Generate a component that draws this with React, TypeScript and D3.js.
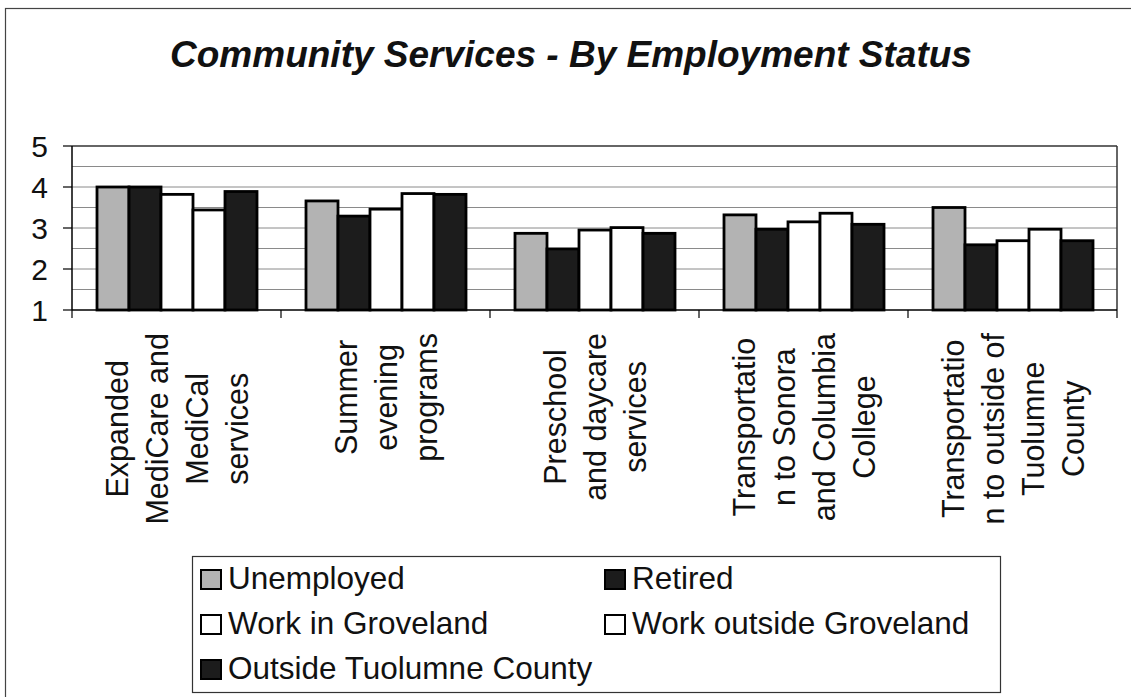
import React from "react";
import * as d3 from "d3";

const categories: string[][] = [
  ["Expanded", "MediCare and", "MediCal", "services"],
  ["Summer", "evening", "programs"],
  ["Preschool", "and daycare", "services"],
  ["Transportatio", "n to Sonora", "and Columbia", "College"],
  ["Transportatio", "n to outside of", "Tuolumne", "County"],
];
const seriesNames = [
  "Unemployed",
  "Retired",
  "Work in Groveland",
  "Work outside Groveland",
  "Outside Tuolumne County",
];
const unemployed = [4.0, 3.66, 2.87, 3.32, 3.5];
const retired = [4.0, 3.29, 2.49, 2.97, 2.59];
const workIn = [3.82, 3.46, 2.95, 3.15, 2.69];
const workOut = [3.44, 3.84, 3.01, 3.36, 2.97];
const outsideCounty = [3.89, 3.82, 2.87, 3.09, 2.69];
const yTicks = [1, 2, 3, 4, 5];
const title = "Community Services - By Employment Status";

const seriesValues = [unemployed, retired, workIn, workOut, outsideCounty];
const colors = ["#b3b3b3", "#1c1c1c", "#ffffff", "#ffffff", "#1c1c1c"];

const W = 1131;
const H = 697;
const plotL = 72;
const plotR = 1117;
const plotT = 146;
const plotB = 310;
const font = "Arial, 'Liberation Sans', Helvetica, sans-serif";

let ctx: CanvasRenderingContext2D | null = null;
function measure(t: string, size: number): number {
  if (!ctx) {
    const c = document.createElement("canvas");
    ctx = c.getContext("2d");
  }
  if (!ctx) return t.length * size * 0.5;
  ctx.font = `${size}px Arial, 'Liberation Sans', sans-serif`;
  return ctx.measureText(t).width;
}

export default function App() {
  const x = d3
    .scaleBand<number>()
    .domain(d3.range(categories.length))
    .range([plotL, plotR])
    .padding(0);
  const inner = d3
    .scaleBand<number>()
    .domain(d3.range(seriesNames.length))
    .range([25, 185])
    .padding(0);
  const y = d3.scaleLinear().domain([1, 5]).range([plotB, plotT]);
  const gridVals = d3.range(1.5, 5.01, 0.5);

  const labelFont = 30.5;
  const lineH = 40;

  return (
    <div style={{ position: "absolute", left: 0, top: 0 }}>
      <svg width={W} height={H} style={{ display: "block", background: "#fff" }}>
        <rect x={5.5} y={8.5} width={W + 20} height={H + 20} fill="none" stroke="#444" strokeWidth={1.2} />
        <text
          x={571}
          y={67}
          textAnchor="middle"
          fontFamily={font}
          fontWeight="bold"
          fontStyle="italic"
          fontSize={37}
          fill="#111"
        >
          {title}
        </text>

        {/* gridlines */}
        {gridVals.map((v) => (
          <line
            key={v}
            x1={plotL}
            x2={plotR}
            y1={y(v)}
            y2={y(v)}
            stroke={v === 5 ? "#333" : "#8a8a8a"}
            strokeWidth={v === 5 ? 1.5 : 1}
          />
        ))}
        <line x1={plotR} x2={plotR} y1={plotT} y2={plotB} stroke="#333" strokeWidth={1.5} />

        {/* bars */}
        {categories.map((_, ci) =>
          seriesValues.map((vals, si) => {
            const bx = (x(ci) as number) + (inner(si) as number);
            const by = y(vals[ci]);
            return (
              <rect
                key={`${ci}-${si}`}
                x={bx}
                y={by}
                width={inner.bandwidth()}
                height={plotB - by}
                fill={colors[si]}
                stroke="#000"
                strokeWidth={2.8}
              />
            );
          })
        )}

        {/* axes */}
        <line x1={plotL} x2={plotL} y1={plotT} y2={plotB} stroke="#000" strokeWidth={1.5} />
        <line x1={plotL} x2={plotR} y1={plotB} y2={plotB} stroke="#000" strokeWidth={1.5} />
        {yTicks.map((t) => (
          <g key={t}>
            <line x1={plotL - 9} x2={plotL} y1={y(t)} y2={y(t)} stroke="#000" strokeWidth={1.2} />
            <text
              x={48}
              y={y(t)}
              dy="0.36em"
              textAnchor="end"
              fontFamily={font}
              fontSize={30}
              fill="#111"
            >
              {t}
            </text>
          </g>
        ))}
        {d3.range(categories.length + 1).map((i) => {
          const tx = i < categories.length ? (x(i) as number) : plotR;
          return <line key={i} x1={tx} x2={tx} y1={plotB} y2={plotB + 8} stroke="#000" strokeWidth={1.2} />;
        })}

        {/* category labels */}
        {categories.map((lines, ci) => {
          const cx = (x(ci) as number) + x.bandwidth() / 2;
          const maxLen = d3.max(lines, (l) => measure(l, labelFont)) || 0;
          const cy = 333 + maxLen / 2;
          const n = lines.length;
          return (
            <g key={ci}>
              {lines.map((l, li) => {
                const bx = cx + (li - (n - 1) / 2) * lineH + 11;
                return (
                  <text
                    key={li}
                    transform={`translate(${bx},${cy}) rotate(-90)`}
                    textAnchor="middle"
                    fontFamily={font}
                    fontSize={labelFont}
                    fill="#111"
                  >
                    {l}
                  </text>
                );
              })}
            </g>
          );
        })}

        {/* legend */}
        <rect x={192.5} y={556.5} width={808} height={136} fill="#fff" stroke="#333" strokeWidth={1.2} />
        {seriesNames.map((s, i) => {
          const col = i % 2;
          const row = Math.floor(i / 2);
          const lx = col === 0 ? 201 : 605;
          const baseY = 589 + row * 45;
          return (
            <g key={s}>
              <rect
                x={lx}
                y={baseY - 19}
                width={20}
                height={19}
                fill={colors[i]}
                stroke="#000"
                strokeWidth={2}
              />
              <text x={lx + 27} y={baseY} fontFamily={font} fontSize={31.5} fill="#111">
                {s}
              </text>
            </g>
          );
        })}
      </svg>
    </div>
  );
}
